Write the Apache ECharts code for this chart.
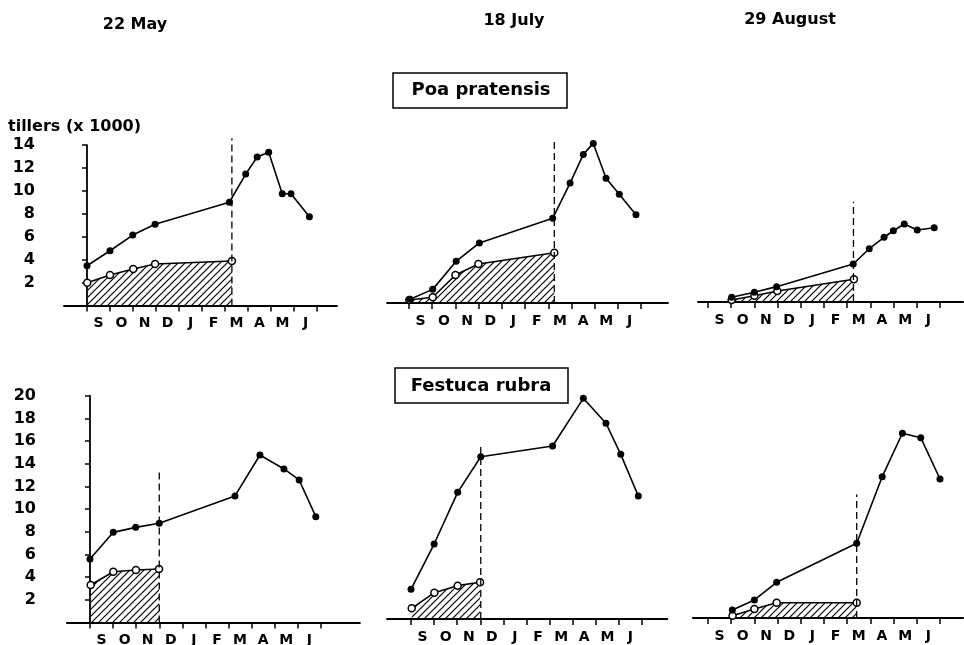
<!DOCTYPE html>
<html>
<head>
<meta charset="utf-8">
<script src="https://cdn.jsdelivr.net/npm/echarts@6.0.0/dist/echarts.min.js"></script>
<style>
  html, body { margin: 0; padding: 0; background: #fff; }
  #chart { width: 964px; height: 645px; }
</style>
</head>
<body>
<div id="chart"></div>
<script>
// month letters sit between the ticks; ticks mark the first of each month
// x values are months after 1 September, y values are tillers (x 1000)
const monthNames = ['S', 'O', 'N', 'D', 'J', 'F', 'M', 'A', 'M', 'J'];
const monthStarts = [0, 1, 2, 3, 4, 5, 6, 7, 8, 9, 10];
const monthMids = [0.5, 1.5, 2.5, 3.5, 4.5, 5.5, 6.5, 7.5, 8.5, 9.5];
const poaTicks = [2, 4, 6, 8, 10, 12, 14];
const festucaTicks = [2, 4, 6, 8, 10, 12, 14, 16, 18, 20];

const sowingDates = ['22 May', '18 July', '29 August'];
const speciesNames = ['Poa pratensis', 'Festuca rubra'];

// Poa pratensis, sown 22 May
const poaMayX = [0, 1.0, 1.99, 2.96, 6.19, 6.9, 7.4, 7.9, 8.49, 8.87, 9.67];
const poaMayAll = [3.47, 4.78, 6.15, 7.09, 9.01, 11.47, 12.96, 13.37, 9.76, 9.76, 7.75];
const poaMayOpenX = [0.01, 1.0, 2.01, 2.96, 6.3];
const poaMayOpen = [1.99, 2.66, 3.18, 3.62, 3.88];
const poaMayCut = [6.3, 14.6];

// Poa pratensis, sown 18 July
const poaJulX = [0.04, 1.02, 2.03, 3.03, 6.19, 6.94, 7.51, 7.94, 8.49, 9.06, 9.78];
const poaJulAll = [0.32, 1.19, 3.64, 5.24, 7.39, 10.47, 12.97, 13.93, 10.88, 9.49, 7.71];
const poaJulOpenX = [0.01, 1.02, 2.0, 2.99, 6.26];
const poaJulOpen = [0.26, 0.5, 2.44, 3.4, 4.39];
const poaJulCut = [6.26, 14.1];

// Poa pratensis, sown 29 August
const poaAugX = [1.02, 2.0, 2.96, 6.26, 6.95, 7.59, 7.99, 8.46, 9.02, 9.75];
const poaAugAll = [0.41, 0.85, 1.34, 3.32, 4.65, 5.65, 6.22, 6.81, 6.28, 6.48];
const poaAugOpenX = [1.02, 2.0, 2.99, 6.29];
const poaAugOpen = [0.17, 0.55, 0.96, 1.98];
const poaAugCut = [6.27, 8.75];

// Festuca rubra, sown 22 May
const fesMayX = [0, 1.01, 1.98, 3.0, 6.28, 7.36, 8.4, 9.06, 9.78];
const fesMayAll = [5.6, 7.95, 8.39, 8.75, 11.16, 14.77, 13.54, 12.57, 9.33];
const fesMayOpenX = [0.03, 1.01, 1.99, 2.99];
const fesMayOpen = [3.31, 4.48, 4.63, 4.72];
const fesMayCut = [3.0, 13.5];

// Festuca rubra, sown 18 July
const fesJulX = [0, 1.0, 2.02, 3.02, 6.13, 7.46, 8.44, 9.08, 9.84];
const fesJulAll = [2.62, 6.61, 11.17, 14.31, 15.26, 19.46, 17.26, 14.52, 10.85];
const fesJulOpenX = [0.03, 1.01, 2.02, 2.99];
const fesJulOpen = [0.94, 2.32, 2.94, 3.24];
const fesJulCut = [3.02, 15.4];

// Festuca rubra, sown 29 August
const fesAugX = [1.05, 2.0, 2.96, 6.41, 7.51, 8.38, 9.17, 10.0];
const fesAugAll = [0.71, 1.59, 3.15, 6.59, 12.46, 16.29, 15.9, 12.26];
const fesAugOpenX = [1.06, 2.0, 2.96, 6.41];
const fesAugOpen = [0.2, 0.79, 1.35, 1.35];
const fesAugCut = [6.41, 10.9];

function pairs(xs, ys) {
    return xs.map(function (x, i) { return [x, ys[i]]; });
}

// diagonal hatching for the area under the open circles
function hatchPattern() {
    const c = document.createElement('canvas');
    c.width = 7; c.height = 7;
    const g = c.getContext('2d');
    g.strokeStyle = '#000';
    g.lineWidth = 1.2;
    g.beginPath();
    g.moveTo(-1, 8); g.lineTo(8, -1);
    g.moveTo(-1, 1); g.lineTo(1, -1);
    g.moveTo(6, 8); g.lineTo(8, 6);
    g.stroke();
    return c;
}

const FONT = '"DejaVu Sans", "Liberation Sans", sans-serif';
const hatch = { image: hatchPattern(), repeat: 'repeat' };

const panels = [
    { left: 64,    top: 145.1, width: 273,   height: 160.4, xMin: -1,    xMax: 10.87, yMax: 14, yTicks: poaTicks, yOffset: 22,
      all: pairs(poaMayX, poaMayAll), open: pairs(poaMayOpenX, poaMayOpen), cut: poaMayCut },
    { left: 387,   top: 142.6, width: 281,   height: 160.4, xMin: -0.95, xMax: 11.16, yMax: 14,
      all: pairs(poaJulX, poaJulAll), open: pairs(poaJulOpenX, poaJulOpen), cut: poaJulCut },
    { left: 698,   top: 141.6, width: 265.2, height: 160.4, xMin: -0.43, xMax: 11.0,  yMax: 14,
      all: pairs(poaAugX, poaAugAll), open: pairs(poaAugOpenX, poaAugOpen), cut: poaAugCut },
    { left: 66.9,  top: 395.7, width: 293,   height: 226.8, xMin: -1,    xMax: 11.69, yMax: 20, yTicks: festucaTicks, yOffset: 24,
      all: pairs(fesMayX, fesMayAll), open: pairs(fesMayOpenX, fesMayOpen), cut: fesMayCut },
    { left: 387,   top: 392.2, width: 280.4, height: 226.8, xMin: -1.04, xMax: 11.1,  yMax: 20,
      all: pairs(fesJulX, fesJulAll), open: pairs(fesJulOpenX, fesJulOpen), cut: fesJulCut },
    { left: 692.9, top: 391.2, width: 270.3, height: 226.8, xMin: -0.65, xMax: 11.0,  yMax: 20,
      all: pairs(fesAugX, fesAugAll), open: pairs(fesAugOpenX, fesAugOpen), cut: fesAugCut }
];

const grid = [], xAxis = [], yAxis = [], series = [];
panels.forEach(function (p, i) {
    grid.push({ left: p.left, top: p.top, width: p.width, height: p.height, outerBoundsMode: 'none' });
    xAxis.push({
        type: 'value', gridIndex: i, min: p.xMin, max: p.xMax,
        axisLine: { show: true, onZero: false, lineStyle: { color: '#000', width: 1.8 } },
        axisTick: { show: true, customValues: monthStarts, length: 6, lineStyle: { color: '#000', width: 1.5 } },
        axisLabel: {
            customValues: monthMids, margin: 11,
            color: '#000', fontFamily: FONT, fontWeight: 'bold', fontSize: 14,
            formatter: function (v) { return monthNames[Math.round(v - 0.5)]; }
        },
        splitLine: { show: false }
    });
    yAxis.push({
        type: 'value', gridIndex: i, min: 0, max: p.yMax,
        show: !!p.yTicks, offset: p.yOffset || 0,
        axisLine: { show: true, lineStyle: { color: '#000', width: 1.8 } },
        axisTick: { show: true, customValues: p.yTicks || [], length: 5, lineStyle: { color: '#000', width: 1.5 } },
        axisLabel: {
            customValues: p.yTicks || [], margin: 7,
            color: '#000', fontFamily: FONT, fontWeight: 'bold', fontSize: 16
        },
        splitLine: { show: false }
    });
    series.push({
        type: 'line', xAxisIndex: i, yAxisIndex: i, data: p.open, clip: false,
        symbol: 'circle', symbolSize: 7,
        lineStyle: { color: '#000', width: 1.6 },
        itemStyle: { color: '#fff', borderColor: '#000', borderWidth: 1.5 },
        areaStyle: { color: hatch, opacity: 1 },
        z: 2
    });
    series.push({
        type: 'line', xAxisIndex: i, yAxisIndex: i, clip: false,
        data: [[p.cut[0], 0], [p.cut[0], p.cut[1]]],
        symbol: 'none',
        lineStyle: { color: '#000', width: 1.3, type: [7, 4] },
        z: 3
    });
    series.push({
        type: 'line', xAxisIndex: i, yAxisIndex: i, data: p.all, clip: false,
        symbol: 'circle', symbolSize: 7,
        lineStyle: { color: '#000', width: 1.6 },
        itemStyle: { color: '#000' },
        z: 4
    });
});

function label(text, x, y, size, align) {
    align = align || 'center';
    return {
        type: 'text', x: x, y: y, z: 10,
        style: {
            text: text, font: 'bold ' + size + 'px ' + FONT, fill: '#000',
            align: align, verticalAlign: 'middle',
            textAlign: align, textVerticalAlign: 'middle'
        }
    };
}

function box(x, y, w, h) {
    return {
        type: 'rect', z: 9,
        shape: { x: x, y: y, width: w, height: h },
        style: { fill: '#fff', stroke: '#000', lineWidth: 1.5 }
    };
}

const graphic = [
    label(sowingDates[0], 135, 25, 16),
    label(sowingDates[1], 514, 21, 16),
    label(sowingDates[2], 790, 20, 16),
    label('tillers (x 1000)', 8, 127, 16, 'left'),
    box(393, 73, 174, 35),
    label(speciesNames[0], 481, 90, 18),
    box(395, 368, 173, 35),
    label(speciesNames[1], 481, 386, 18)
];

const chart = echarts.init(document.getElementById('chart'));
chart.setOption({
    animation: false,
    backgroundColor: '#fff',
    grid: grid,
    xAxis: xAxis,
    yAxis: yAxis,
    series: series,
    graphic: graphic
});
</script>
</body>
</html>
